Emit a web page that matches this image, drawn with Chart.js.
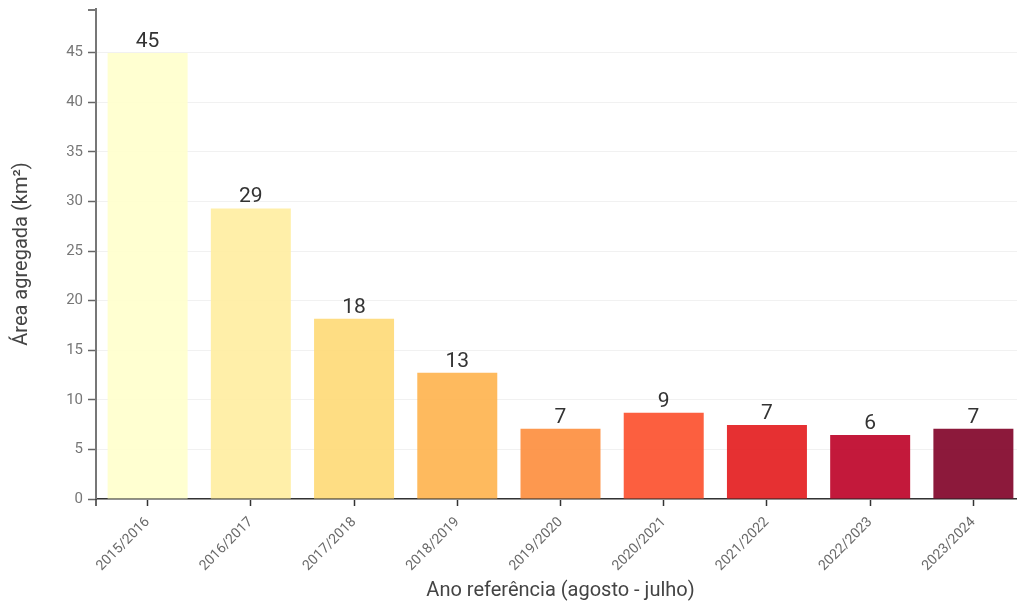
<!DOCTYPE html>
<html>
<head>
<meta charset="utf-8">
<script src="https://cdn.jsdelivr.net/npm/chart.js@4"></script>
<style>
html,body{margin:0;padding:0;overflow:hidden;background:#fff;width:1017px;height:606px;}
canvas{display:block;}
</style>
</head>
<body>
<canvas id="c" width="1030" height="606" style="width:1030px;height:606px"></canvas>
<script>
const categories = ["2015/2016","2016/2017","2017/2018","2018/2019","2019/2020","2020/2021","2021/2022","2022/2023","2023/2024"];
const areaValues = [44.97, 29.29, 18.18, 12.72, 7.07, 8.69, 7.45, 6.45, 7.07];
const barColors = ["rgba(255,255,204,0.9)","rgba(255,237,160,0.9)","rgba(254,217,118,0.9)","rgba(254,178,76,0.9)","rgba(253,141,60,0.9)","rgba(252,78,42,0.9)","rgba(227,26,28,0.9)","rgba(189,0,38,0.9)","rgba(128,0,38,0.9)"];
const yTickStep = 5;
const yMax = 49.4;

const FONT = "Roboto, 'Open Sans', sans-serif";

const valueLabels = {
  id: 'valueLabels',
  afterDatasetsDraw(chart) {
    const ctx = chart.ctx;
    const meta = chart.getDatasetMeta(0);
    ctx.save();
    ctx.font = "21px " + FONT;
    ctx.fillStyle = "#333";
    ctx.textAlign = "center";
    ctx.textBaseline = "alphabetic";
    meta.data.forEach((bar, i) => {
      ctx.fillText(String(Math.round(areaValues[i])), bar.x, bar.y - 6);
    });
    ctx.restore();
  }
};

const outerTicks = {
  id: 'outerTicks',
  afterDraw(chart) {
    const ctx = chart.ctx;
    const y = chart.scales.y, x = chart.scales.x;
    ctx.save();
    ctx.strokeStyle = "#777";
    ctx.lineWidth = 2;
    ctx.beginPath();
    ctx.moveTo(y.right - 8, y.top + 1);
    ctx.lineTo(y.right, y.top + 1);
    ctx.stroke();
    ctx.strokeStyle = "#333";
    ctx.lineWidth = 1.5;
    ctx.beginPath();
    ctx.moveTo(x.left, x.top);
    ctx.lineTo(x.left, x.top + 7);
    ctx.stroke();
    ctx.restore();
  }
};

new Chart(document.getElementById('c'), {
  type: 'bar',
  data: {
    labels: categories,
    datasets: [{
      data: areaValues,
      backgroundColor: barColors,
      borderWidth: 0,
      categoryPercentage: 1,
      barPercentage: 0.775
    }]
  },
  options: {
    responsive: false,
    animation: false,
    layout: { padding: { top: 9, right: 5, left: 0, bottom: 0 } },
    plugins: { legend: { display: false }, tooltip: { enabled: false } },
    scales: {
      x: {
        offset: true,
        afterFit(s) { s.height = 606 - 499; s.paddingLeft = 0; s.paddingRight = 0; },
        grid: { drawOnChartArea: false, offset: false, tickColor: "#333", tickLength: 7, tickWidth: 1.5 },
        border: { color: "#333", width: 1.5 },
        ticks: { minRotation: 45, maxRotation: 45, color: "#6a6a6a", font: { family: FONT, size: 14 }, padding: 8, autoSkip: false },
        title: { display: true, text: "Ano referência (agosto - julho)", color: "#444", font: { family: FONT, size: 20 }, padding: { top: 0, bottom: 3 } }
      },
      y: {
        min: 0,
        max: yMax,
        afterFit(s) { s.width = 96; s.paddingTop = 0; s.paddingBottom = 0; },
        grid: { color: "#f1f1f1", tickColor: "#666", tickLength: 8, tickWidth: 1.5 },
        border: { color: "#777", width: 2 },
        ticks: { stepSize: yTickStep, includeBounds: false, color: "#777", font: { family: FONT, size: 15 }, padding: 5 },
        title: { display: true, text: "Área agregada (km²)", color: "#444", font: { family: FONT, size: 20 }, padding: { top: 10, bottom: 0 } }
      }
    }
  },
  plugins: [valueLabels, outerTicks]
});
</script>
</body>
</html>
